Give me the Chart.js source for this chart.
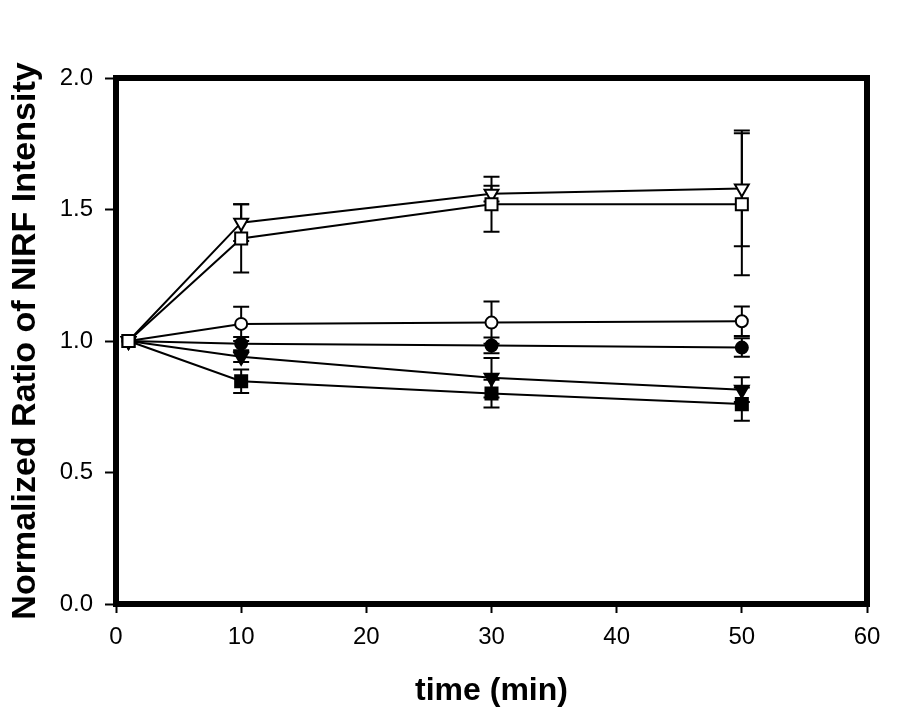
<!DOCTYPE html>
<html>
<head>
<meta charset="utf-8">
<script src="https://cdn.jsdelivr.net/npm/chart.js@4"></script>
<style>
  html, body { margin: 0; padding: 0; background: #fff; }
  canvas { display: block; }
</style>
</head>
<body>
<canvas id="nirfChart" width="908" height="713"></canvas>
<script>
// time points (min)
const times = [1, 10, 30, 50];

// series values
const openTriangle = [1.0, 1.45, 1.56, 1.58];
const openTriangleErr = [0, 0.07, 0.03, 0.22];
const openSquare = [1.0, 1.39, 1.52, 1.52];
const openSquareErr = [0, 0.13, 0.105, 0.27];
const openCircle = [1.0, 1.065, 1.07, 1.075];
const openCircleErr = [0, 0.065, 0.08, 0.056];
const filledCircle = [1.0, 0.99, 0.983, 0.975];
const filledCircleErr = [0, 0.025, 0.03, 0.035];
const filledTriangle = [1.0, 0.94, 0.86, 0.815];
const filledTriangleErr = [0, 0.02, 0.075, 0.047];
const filledSquare = [1.0, 0.847, 0.80, 0.76];
const filledSquareErr = [0, 0.045, 0.053, 0.063];

const xTicks = [0, 10, 20, 30, 40, 50, 60];
const yTicks = [0.0, 0.5, 1.0, 1.5, 2.0];

function makeSet(values, errs, style, filled, rotation, radius) {
    return {
        data: times.map((t, i) => ({ x: t, y: values[i] })),
        errors: errs,
        showLine: true,
        borderColor: '#000',
        borderWidth: 2,
        pointStyle: style,
        pointRotation: rotation,
        pointRadius: radius,
        pointBorderWidth: 2,
        pointBorderColor: '#000',
        pointBackgroundColor: filled ? '#000' : '#fff',
        tension: 0
    };
}

// index 0 is drawn on top
const datasets = [
    makeSet(openSquare, openSquareErr, 'rect', false, 0, 8.5),
    makeSet(openTriangle, openTriangleErr, 'triangle', false, 180, 8),
    makeSet(openCircle, openCircleErr, 'circle', false, 0, 6),
    makeSet(filledCircle, filledCircleErr, 'circle', true, 0, 6),
    makeSet(filledTriangle, filledTriangleErr, 'triangle', true, 180, 8),
    makeSet(filledSquare, filledSquareErr, 'rect', true, 0, 8.5)
];

const errorBars = {
    id: 'errorBars',
    beforeDatasetsDraw(chart) {
        const ctx = chart.ctx;
        const xs = chart.scales.x, ys = chart.scales.y;
        ctx.save();
        ctx.strokeStyle = '#000';
        ctx.lineWidth = 2;
        chart.data.datasets.forEach(ds => {
            ds.data.forEach((p, i) => {
                const e = ds.errors[i];
                if (!e) return;
                const px = xs.getPixelForValue(p.x);
                const top = ys.getPixelForValue(p.y + e);
                const bot = ys.getPixelForValue(p.y - e);
                ctx.beginPath();
                ctx.moveTo(px, top); ctx.lineTo(px, bot);
                ctx.moveTo(px - 8, top); ctx.lineTo(px + 8, top);
                ctx.moveTo(px - 8, bot); ctx.lineTo(px + 8, bot);
                ctx.stroke();
            });
        });
        ctx.restore();
    }
};

const frame = {
    id: 'frame',
    afterDraw(chart) {
        const a = chart.chartArea;
        const ctx = chart.ctx;
        ctx.save();
        ctx.strokeStyle = '#000';
        ctx.lineWidth = 6;
        ctx.strokeRect(a.left, a.top, a.right - a.left, a.bottom - a.top);
        ctx.restore();
    }
};

const tickFont = { family: '"Liberation Sans", Arial, sans-serif', size: 24 };
const xTitleFont = { family: '"Liberation Sans", Arial, sans-serif', size: 32, weight: 'bold' };
const yTitleFont = { family: '"Liberation Sans", Arial, sans-serif', size: 34, weight: 'bold' };

new Chart(document.getElementById('nirfChart').getContext('2d'), {
    type: 'scatter',
    data: { datasets: datasets },
    options: {
        responsive: false,
        animation: false,
        layout: { padding: { top: 78, right: 41, left: 0, bottom: 0 } },
        plugins: { legend: { display: false }, tooltip: { enabled: false } },
        scales: {
            x: {
                type: 'linear',
                min: 0, max: 60,
                afterFit(scale) { scale.height = 109; },
                afterBuildTicks(scale) { scale.ticks = xTicks.map(v => ({ value: v })); },
                border: { display: false },
                grid: { drawOnChartArea: false, drawTicks: true, tickLength: 9, tickWidth: 2, tickColor: '#000' },
                ticks: { color: '#000', font: tickFont, padding: 10, maxRotation: 0 },
                title: { display: true, text: 'time (min)', color: '#000', font: xTitleFont, padding: { top: 0, bottom: 3 } }
            },
            y: {
                type: 'linear',
                min: 0, max: 2,
                afterFit(scale) { scale.width = 116; },
                afterBuildTicks(scale) { scale.ticks = yTicks.map(v => ({ value: v })); },
                border: { display: false },
                grid: { drawOnChartArea: false, drawTicks: true, tickLength: 11, tickWidth: 2, tickColor: '#000' },
                ticks: { color: '#000', font: tickFont, padding: 12, callback: v => Number(v).toFixed(1) },
                title: { display: true, text: 'Normalized Ratio of NIRF Intensity', color: '#000', font: yTitleFont, padding: { top: 5, bottom: 0 } }
            }
        }
    },
    plugins: [errorBars, frame]
});
</script>
</body>
</html>
